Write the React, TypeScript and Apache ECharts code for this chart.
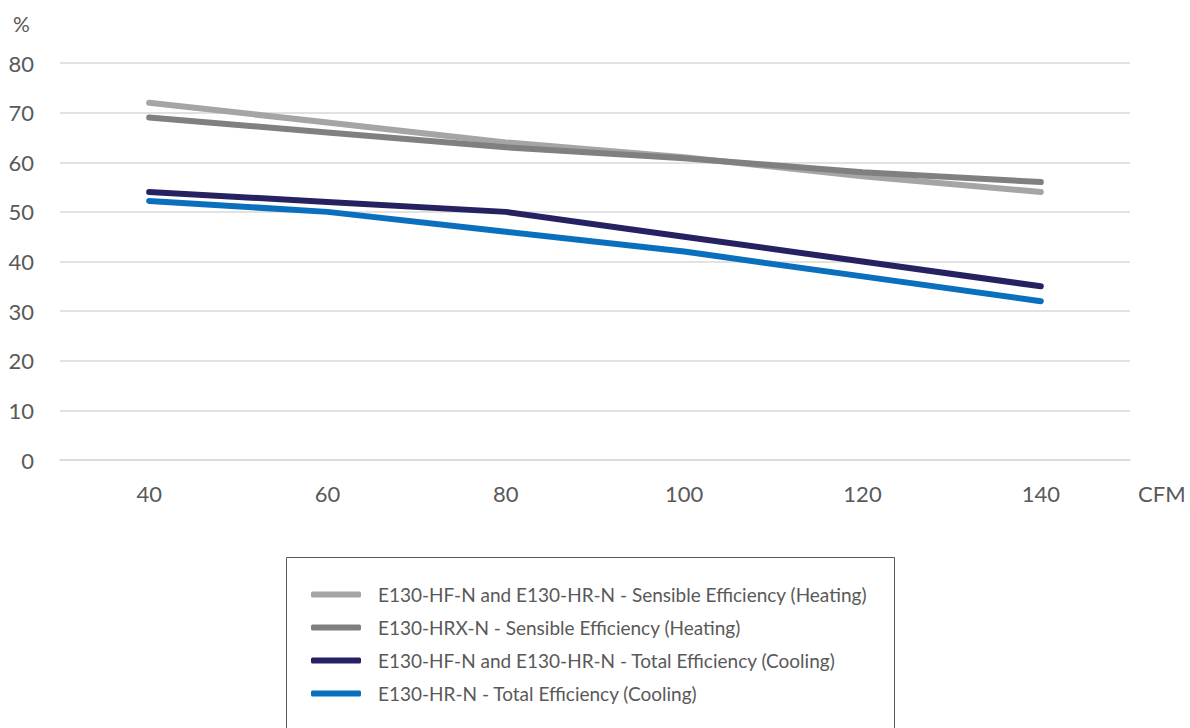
import React, { useEffect, useRef } from "react";
import * as echarts from "echarts";

const categories = ["40", "60", "80", "100", "120", "140"];
const yTicks = [0, 10, 20, 30, 40, 50, 60, 70, 80];
const seriesNames = [
  "E130-HF-N and E130-HR-N - Sensible Efficiency (Heating)",
  "E130-HRX-N - Sensible Efficiency (Heating)",
  "E130-HF-N and E130-HR-N - Total Efficiency (Cooling)",
  "E130-HR-N - Total Efficiency (Cooling)",
];
const hfHrSensible = [72, 68, 64, 61, 57.2, 54];
const hrxSensible = [69, 66, 63, 60.8, 58, 56];
const hfHrTotal = [54, 52, 50, 45, 40, 35];
const hrTotal = [52.2, 50, 46, 42, 37, 32];
const colors = ["#A5A5A5", "#808080", "#262262", "#0A70BE"];

export default function App() {
  const ref = useRef<HTMLDivElement>(null);
  useEffect(() => {
    const chart = echarts.init(ref.current!, null, { renderer: "svg" });
    const data = [hfHrSensible, hrxSensible, hfHrTotal, hrTotal];
    const font = "Lato, 'Open Sans', sans-serif";
    chart.setOption({
      animation: false,
      textStyle: { fontFamily: font },
      grid: { left: 60, right: 60, top: 63, bottom: 268, containLabel: false },
      xAxis: {
        type: "category",
        data: categories,
        boundaryGap: true,
        axisLine: { show: true, lineStyle: { color: "#D9D9D9", width: 1.5 } },
        axisTick: { show: false },
        axisLabel: { color: "#595959", fontSize: 22, margin: 22, fontFamily: font },
      },
      yAxis: {
        type: "value",
        min: yTicks[0],
        max: yTicks[yTicks.length - 1],
        interval: 10,
        axisLine: { show: false },
        axisTick: { show: false },
        axisLabel: { color: "#595959", fontSize: 22, margin: 26, fontFamily: font },
        splitLine: { lineStyle: { color: "#D9D9D9", width: 1.5 } },
      },
      legend: {
        orient: "vertical",
        left: 306,
        top: 580,
        itemWidth: 50,
        itemHeight: 6,
        itemGap: 14,
        icon: "roundRect",
        textStyle: { color: "#595959", fontSize: 19, fontFamily: font, padding: [0, 0, 0, 12] },
        data: seriesNames,
      },
      graphic: [
        {
          type: "rect",
          shape: { x: 286.5, y: 557.5, width: 608, height: 200 },
          style: { fill: "none", stroke: "#595959", lineWidth: 1 },
          z: -1,
        },
        {
          type: "text",
          x: 13,
          y: 13,
          style: { text: "%", fill: "#595959", fontSize: 21, fontFamily: font },
        },
        {
          type: "text",
          x: 1138,
          y: 482,
          style: { text: "CFM", fill: "#595959", fontSize: 22, fontFamily: font },
        },
      ],
      series: seriesNames.map((name, i) => ({
        name,
        type: "line",
        data: data[i],
        symbol: "none",
        smooth: false,
        color: colors[i],
        lineStyle: { width: 6, color: colors[i], cap: "round", join: "round" },
      })),
    });
    return () => chart.dispose();
  }, []);
  return (
    <div
      ref={ref}
      style={{ position: "fixed", left: 0, top: 0, width: 1190, height: 728, background: "#fff" }}
    />
  );
}
